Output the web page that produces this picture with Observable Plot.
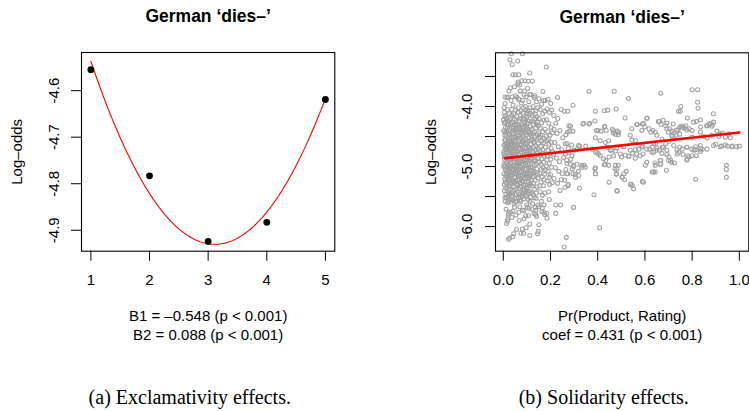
<!DOCTYPE html>
<html>
<head>
<meta charset="utf-8">
<script src="https://cdn.jsdelivr.net/npm/d3@7"></script>
<script src="https://cdn.jsdelivr.net/npm/@observablehq/plot@0.6"></script>
<style>
  html, body { margin: 0; padding: 0; background: #fff; }
  #fig { position: relative; width: 749px; height: 411px; overflow: hidden; }
  #fig svg { position: absolute; top: 0; }
</style>
</head>
<body>
<div id="fig"></div>
<script>
// ---- Panel (a): exclamativity effects ----
const panelTitle = "German ‘dies–’";
const exclLevels = [1, 2, 3, 4, 5];
const exclLogOdds = [-4.555, -4.783, -4.924, -4.883, -4.619];
const quadB0 = -4.077, quadB1 = -0.548, quadB2 = 0.088;
const exclTicksY = [-4.6, -4.7, -4.8, -4.9];
const exclNotes = ["B1 = –0.548 (p < 0.001)", "B2 = 0.088 (p < 0.001)"];
const captionA = "(a) Exclamativity effects.";

// ---- Panel (b): solidarity effects ----
const solTicksX = [0, 0.2, 0.4, 0.6, 0.8, 1.0];
const solTicksY = [-3.5, -4.0, -4.5, -5.0, -5.5, -6.0];
const solLabelsY = [-4.0, -5.0, -6.0];
const solIntercept = -4.864, solCoef = 0.431;
const solFitRange = [0.007, 1.0];
const solNotes = ["Pr(Product, Rating)", "coef = 0.431 (p < 0.001)"];
const captionB = "(b) Solidarity effects.";

// [Pr(Product, Rating), log-odds]
const upperTail = [
  [0.034,-3.12],[0.081,-3.12],[0.028,-3.22],[0.061,-3.24],[0.038,-3.30],[0.182,-3.34],[0.112,-3.44],
  [0.041,-3.47],[0.052,-3.47],[0.066,-3.47],[0.078,-3.57],[0.106,-3.58],[0.123,-3.58],[0.064,-3.59],
  [0.030,-3.69],[0.047,-3.67],[0.069,-3.64],[0.024,-3.74],[0.072,-3.74],[0.090,-3.74],[0.007,-3.84],
  [0.021,-3.84],[0.038,-3.84],[0.052,-3.82],[0.066,-3.88],[0.081,-3.90],[0.112,-3.80],[0.134,-3.82],
  [0.151,-3.87],[0.177,-3.90],[0.185,-4.04],[0.168,-3.75],[0.201,-3.95],[0.230,-3.85],[0.295,-3.98]
];
const denseCore = [
  [0.004,-4.28],[0.010,-4.35],[0.015,-4.42],[0.022,-4.31],[0.027,-4.47],[0.006,-4.55],[0.013,-4.61],
  [0.020,-4.52],[0.025,-4.66],[0.008,-4.72],[0.017,-4.78],[0.024,-4.83],[0.005,-4.88],[0.012,-4.94],
  [0.021,-4.99],[0.028,-4.91],[0.009,-5.05],[0.016,-5.12],[0.023,-5.08],[0.006,-5.21],[0.014,-5.28],
  [0.026,-5.24],[0.010,-5.36],[0.019,-5.42],[0.028,-5.33],[0.007,-5.52],[0.018,-5.60],[0.025,-5.55],
  [0.012,-5.71],[0.022,-5.78],[0.008,-3.95],[0.018,-4.05],[0.011,-4.15],[0.026,-4.12],[0.004,-4.02],
  [0.015,-3.85],[0.027,-4.22],[0.020,-4.72],[0.003,-4.80],[0.029,-5.15],[0.002,-5.00],
  [0.002,-4.40],[0.007,-4.48],[0.018,-4.36],[0.024,-4.58],[0.011,-4.69],[0.029,-4.76],[0.004,-4.96],
  [0.016,-5.01],[0.026,-5.03],[0.010,-5.15],[0.021,-5.19],[0.004,-5.30],[0.016,-5.35],[0.027,-5.46],
  [0.011,-5.46],[0.006,-4.17],[0.020,-4.24],[0.013,-4.86],[0.028,-4.58],[0.003,-4.65],
  [0.001,-4.22],[0.009,-4.26],[0.016,-4.30],[0.023,-4.40],[0.006,-4.43],[0.013,-4.50],[0.028,-4.52],
  [0.019,-4.62],[0.007,-4.63],[0.024,-4.74],[0.015,-4.70],[0.002,-4.76],[0.010,-4.81],[0.026,-4.86],
  [0.018,-4.92],[0.007,-5.00],[0.024,-4.98],[0.013,-5.08],[0.003,-5.12],[0.019,-5.22],[0.027,-5.18],
  [0.009,-5.26],[0.022,-5.32],[0.004,-5.40],[0.014,-5.52],[0.023,-5.45],
  [0.005,-4.10],[0.014,-4.20],[0.021,-4.45],[0.009,-4.57],[0.017,-4.66],[0.027,-4.70],[0.006,-4.84],
  [0.021,-4.88],[0.015,-5.18],[0.025,-5.38],[0.008,-5.58],[0.019,-5.50],
  [0.033,-3.90],[0.041,-3.98],[0.052,-4.06],[0.036,-4.14],[0.047,-4.21],[0.057,-4.17],[0.032,-4.29],
  [0.043,-4.36],[0.054,-4.30],[0.038,-4.44],[0.049,-4.50],[0.058,-4.43],[0.034,-4.58],[0.045,-4.63],
  [0.055,-4.69],[0.040,-4.74],[0.051,-4.81],[0.059,-4.76],[0.035,-4.87],[0.046,-4.93],[0.056,-4.88],
  [0.031,-5.00],[0.042,-5.06],[0.053,-5.02],[0.037,-5.14],[0.048,-5.19],[0.058,-5.13],[0.033,-5.27],
  [0.044,-5.33],[0.055,-5.29],[0.039,-5.41],[0.050,-5.47],[0.034,-5.55],[0.046,-5.62],[0.057,-5.58],
  [0.041,-5.74],[0.053,-5.81],[0.036,-5.85],[0.048,-5.68],[0.058,-3.85],
  [0.031,-4.20],[0.039,-4.27],[0.050,-4.40],[0.060,-4.52],[0.036,-4.52],[0.044,-4.46],[0.053,-4.59],
  [0.032,-4.70],[0.048,-4.72],[0.058,-4.62],[0.038,-4.82],[0.054,-4.95],[0.043,-4.99],[0.031,-5.10],
  [0.052,-5.10],[0.040,-5.25],[0.057,-5.38],[0.046,-5.39],[0.034,-5.45],[0.059,-4.99],
  [0.035,-4.36],[0.047,-4.31],[0.056,-4.38],[0.041,-4.55],[0.052,-4.51],[0.037,-4.65],[0.050,-4.66],
  [0.043,-4.79],[0.057,-4.84],[0.033,-4.94],[0.049,-4.87],[0.039,-5.04],[0.058,-5.06],[0.045,-5.12],
  [0.036,-5.21],[0.053,-5.23],[0.043,-5.28],[0.060,-5.31],[0.048,-5.53],[0.038,-5.49],
  [0.035,-4.05],[0.044,-4.12],[0.054,-4.23],[0.040,-4.40],[0.032,-4.62],[0.047,-4.57],[0.053,-4.75],
  [0.036,-4.77],[0.045,-4.85],[0.058,-4.93],[0.034,-5.06],[0.050,-5.01],[0.047,-5.26],[0.056,-5.47],
  [0.041,-5.55],
  [0.062,-3.62],[0.072,-3.74],[0.088,-3.80],[0.066,-3.88],[0.077,-3.94],[0.085,-4.02],[0.063,-4.09],
  [0.073,-4.15],[0.083,-4.11],[0.068,-4.24],[0.079,-4.30],[0.089,-4.26],[0.064,-4.38],[0.075,-4.45],
  [0.086,-4.40],[0.070,-4.53],[0.080,-4.59],[0.061,-4.65],[0.072,-4.71],[0.083,-4.67],[0.066,-4.80],
  [0.077,-4.86],[0.088,-4.82],[0.063,-4.95],[0.074,-5.01],[0.085,-4.97],[0.069,-5.10],[0.080,-5.16],
  [0.061,-5.22],[0.072,-5.28],[0.083,-5.25],[0.067,-5.37],[0.078,-5.43],[0.089,-5.39],[0.064,-5.52],
  [0.075,-5.58],[0.086,-5.54],[0.070,-5.67],[0.081,-5.73],[0.067,-5.90],[0.088,-5.87],
  [0.061,-4.30],[0.070,-4.37],[0.081,-4.50],[0.088,-4.57],[0.065,-4.57],[0.076,-4.64],[0.087,-4.74],
  [0.062,-4.86],[0.071,-4.92],[0.082,-4.92],[0.066,-5.04],[0.077,-5.08],[0.087,-5.12],[0.064,-5.16],
  [0.075,-5.33],[0.086,-5.31],[0.069,-5.46],[0.080,-5.50],[0.073,-4.20],[0.084,-4.33],
  [0.067,-4.33],[0.078,-4.39],[0.063,-4.48],[0.085,-4.48],[0.070,-4.62],[0.084,-4.60],[0.075,-4.76],
  [0.062,-4.75],[0.089,-4.90],[0.068,-4.88],[0.079,-4.96],[0.072,-5.15],[0.088,-5.20],[0.061,-5.30],
  [0.079,-5.24],[0.069,-5.56],[0.084,-5.46],
  [0.064,-4.02],[0.075,-4.07],[0.086,-4.20],[0.066,-4.43],[0.080,-4.43],[0.068,-4.70],[0.079,-4.72],
  [0.084,-4.84],[0.070,-4.99],[0.082,-5.04],[0.068,-5.22],[0.076,-5.20],[0.085,-5.40],[0.072,-5.50],
  [0.092,-3.57],[0.103,-3.70],[0.097,-3.84],[0.108,-3.92],[0.117,-3.80],[0.094,-4.00],[0.105,-4.06],
  [0.115,-4.12],[0.099,-4.18],[0.110,-4.24],[0.092,-4.31],[0.103,-4.37],[0.114,-4.34],[0.097,-4.47],
  [0.108,-4.52],[0.118,-4.48],[0.094,-4.61],[0.105,-4.67],[0.116,-4.63],[0.100,-4.76],[0.111,-4.82],
  [0.093,-4.89],[0.104,-4.95],[0.115,-4.91],[0.098,-5.05],[0.109,-5.11],[0.119,-5.07],[0.095,-5.20],
  [0.106,-5.26],[0.117,-5.22],[0.101,-5.35],[0.112,-5.41],[0.094,-5.48],[0.105,-5.55],[0.116,-5.51],
  [0.099,-5.64],[0.110,-5.70],[0.106,-5.82],
  [0.091,-4.21],[0.101,-4.28],[0.111,-4.42],[0.096,-4.55],[0.106,-4.58],[0.117,-4.56],[0.091,-4.70],
  [0.102,-4.85],[0.113,-4.74],[0.118,-4.86],[0.096,-4.97],[0.107,-5.03],[0.114,-5.16],[0.092,-5.12],
  [0.103,-5.19],[0.110,-5.32],[0.097,-5.40],[0.119,-5.44],[0.100,-4.11],[0.113,-4.02],
  [0.099,-4.34],[0.093,-4.43],[0.113,-4.46],[0.101,-4.62],[0.111,-4.68],[0.095,-4.79],[0.107,-4.78],
  [0.116,-4.80],[0.100,-4.90],[0.110,-4.97],[0.093,-5.04],[0.115,-5.01],[0.101,-5.12],[0.108,-5.20],
  [0.095,-5.31],[0.105,-5.43],[0.114,-5.29],
  [0.096,-4.07],[0.108,-4.14],[0.118,-4.25],[0.095,-4.38],[0.107,-4.44],[0.098,-4.69],[0.117,-4.70],
  [0.108,-4.90],[0.097,-5.12],[0.117,-5.13],[0.103,-5.29],[0.100,-5.50],[0.113,-5.58],
  [0.131,-3.85],[0.140,-3.92],[0.127,-4.00],[0.137,-4.07],[0.146,-4.02],[0.123,-4.15],[0.133,-4.21],
  [0.143,-4.17],[0.128,-4.30],[0.138,-4.36],[0.148,-4.32],[0.124,-4.45],[0.134,-4.51],[0.144,-4.47],
  [0.129,-4.60],[0.139,-4.66],[0.149,-4.62],[0.125,-4.75],[0.135,-4.81],[0.145,-4.77],[0.130,-4.90],
  [0.140,-4.96],[0.121,-5.02],[0.131,-5.08],[0.142,-5.04],[0.126,-5.17],[0.136,-5.23],[0.147,-5.19],
  [0.122,-5.32],[0.133,-5.38],[0.143,-5.34],[0.128,-5.47],[0.139,-5.53],[0.124,-5.62],[0.135,-5.68],
  [0.146,-5.64],[0.130,-5.78],[0.141,-5.83],
  [0.126,-4.08],[0.136,-4.13],[0.145,-4.26],[0.121,-4.38],[0.131,-4.42],[0.142,-4.54],[0.127,-4.68],
  [0.137,-4.73],[0.147,-4.86],[0.122,-4.88],[0.132,-4.98],[0.144,-5.12],[0.128,-5.28],[0.140,-5.44],
  [0.125,-4.55],
  [0.126,-4.24],[0.140,-4.29],[0.131,-4.58],[0.146,-4.70],[0.136,-4.89],[0.126,-5.10],[0.139,-5.15],
  [0.131,-5.52],
  [0.162,-3.96],[0.171,-3.90],[0.157,-4.05],[0.167,-4.12],[0.176,-4.08],[0.152,-4.20],[0.162,-4.27],
  [0.172,-4.23],[0.157,-4.36],[0.167,-4.42],[0.177,-4.38],[0.153,-4.51],[0.163,-4.57],[0.173,-4.53],
  [0.158,-4.66],[0.168,-4.72],[0.178,-4.68],[0.154,-4.81],[0.164,-4.87],[0.174,-4.83],[0.159,-4.96],
  [0.169,-5.02],[0.155,-5.11],[0.165,-5.17],[0.175,-5.13],[0.160,-5.26],[0.170,-5.32],[0.156,-5.42],
  [0.166,-5.48],[0.176,-5.44],[0.161,-5.58],[0.172,-5.64],[0.163,-5.75],[0.175,-5.80],
  [0.151,-4.44],[0.159,-4.48],[0.171,-4.60],[0.156,-4.74],[0.166,-4.78],[0.152,-4.93],[0.171,-4.93],
  [0.160,-5.05],[0.178,-5.05],[0.154,-5.32],[0.173,-5.22],
  [0.190,-3.88],[0.196,-4.10],[0.205,-4.06],[0.183,-4.22],[0.193,-4.28],[0.203,-4.35],[0.188,-4.42],
  [0.198,-4.48],[0.208,-4.44],[0.184,-4.57],[0.194,-4.63],[0.204,-4.60],[0.189,-4.73],[0.199,-4.79],
  [0.209,-4.75],[0.185,-4.89],[0.195,-4.95],[0.205,-5.01],[0.190,-5.08],[0.200,-5.14],[0.186,-5.24],
  [0.197,-5.30],[0.207,-5.27],[0.192,-5.42],[0.195,-5.55],
  [0.181,-4.50],[0.191,-4.55],[0.187,-4.82],[0.201,-4.88],[0.182,-5.00],[0.196,-5.18],[0.203,-4.70],
  [0.214,-4.15],[0.222,-4.28],[0.231,-4.20],[0.245,-4.05],[0.258,-4.08],[0.273,-4.08],[0.215,-4.38],
  [0.228,-4.45],[0.240,-4.40],[0.252,-4.52],[0.265,-4.47],[0.281,-4.41],[0.278,-4.32],[0.218,-4.60],
  [0.233,-4.67],[0.248,-4.72],[0.262,-4.62],[0.275,-4.70],[0.290,-4.64],[0.212,-4.80],[0.225,-4.86],
  [0.238,-4.92],[0.255,-4.85],[0.270,-4.95],[0.285,-4.88],[0.220,-5.02],[0.235,-5.08],[0.250,-5.12],
  [0.265,-5.05],[0.298,-5.00],[0.215,-5.20],[0.230,-5.28],[0.245,-5.22],[0.261,-5.35],[0.240,-5.40]
];
const lowerTail = [
  [0.031,-5.76],[0.066,-5.76],[0.088,-5.73],[0.102,-5.68],[0.123,-5.71],[0.137,-5.73],[0.151,-5.67],
  [0.165,-5.69],[0.172,-5.76],[0.052,-5.59],[0.024,-5.59],[0.095,-5.82],[0.137,-5.80],[0.018,-5.91],
  [0.021,-5.81],[0.014,-5.95],[0.019,-5.88],[0.044,-6.12],[0.056,-6.05],[0.075,-6.11],[0.086,-6.11],
  [0.081,-6.04],[0.097,-6.02],[0.112,-5.96],[0.112,-6.15],[0.151,-5.97],[0.145,-6.12],[0.148,-6.08],
  [0.027,-6.19],[0.022,-6.21],[0.040,-6.17],[0.184,-5.78],[0.185,-5.86],[0.222,-5.64],[0.243,-5.64],
  [0.222,-5.78],[0.298,-5.68],[0.267,-6.18],[0.258,-6.34],[0.408,-6.02]
];
const spread = [
  [0.363,-3.75],[0.470,-3.744],[0.530,-3.867],[0.667,-3.778],[0.800,-3.72],[0.823,-3.72],[0.823,-3.93],
  [0.825,-4.03],[0.750,-4.08],[0.752,-4.00],[0.742,-4.08],[0.390,-4.08],[0.428,-4.07],[0.442,-4.06],
  [0.478,-4.04],[0.890,-4.12],[0.780,-4.19],[0.609,-4.19],[0.516,-4.19],[0.388,-4.24],[0.363,-4.29],
  [0.338,-4.29],[0.429,-4.34],[0.462,-4.38],[0.466,-4.44],[0.483,-4.41],[0.487,-4.47],[0.395,-4.40],
  [0.568,-4.30],[0.544,-4.37],[0.589,-4.29],[0.617,-4.37],[0.657,-4.25],[0.677,-4.23],[0.688,-4.32],
  [0.705,-4.37],[0.720,-4.29],[0.740,-4.39],[0.753,-4.33],[0.763,-4.34],[0.773,-4.32],[0.787,-4.37],
  [0.800,-4.40],[0.836,-4.34],[0.862,-4.32],[0.871,-4.30],[0.883,-4.33],[0.891,-4.26],[0.928,-4.44],
  [0.914,-4.50],[0.925,-4.66],[0.949,-4.66],[0.970,-4.66],[1.000,-4.66],[0.900,-4.63],[0.815,-4.67],
  [0.808,-4.73],[0.843,-4.71],[0.945,-4.98],[0.945,-5.05],[0.945,-5.18],[0.815,-5.21],
  [0.800,-4.51],[0.777,-4.68],[0.747,-4.68],[0.758,-4.71],[0.716,-4.50],[0.723,-4.44],[0.702,-4.58],
  [0.688,-4.62],[0.674,-4.68],[0.662,-4.73],[0.645,-4.62],[0.631,-4.68],[0.620,-4.71],[0.589,-4.66],
  [0.575,-4.71],[0.565,-4.79],[0.547,-4.78],[0.532,-4.83],[0.516,-4.81],[0.501,-4.84],[0.476,-4.74],
  [0.459,-4.73],[0.448,-4.84],[0.434,-4.90],[0.428,-4.97],[0.403,-4.79],[0.391,-4.76],[0.377,-4.71],
  [0.349,-4.66],[0.323,-4.66],[0.314,-4.71],[0.299,-4.73],[0.777,-4.88],[0.787,-4.84],[0.737,-4.79],
  [0.709,-4.90],[0.702,-4.84],[0.667,-4.90],[0.667,-4.96],[0.643,-4.94],[0.631,-5.09],[0.589,-5.25],
  [0.541,-5.29],[0.547,-5.32],[0.504,-5.18],[0.511,-5.12],[0.479,-5.12],[0.473,-5.04],[0.487,-4.98],
  [0.448,-5.26],[0.483,-5.41],[0.391,-5.12],[0.388,-5.04],[0.332,-5.01],[0.342,-4.98],[0.384,-5.47],
  [0.318,-5.08],[0.292,-5.04],[0.275,-5.30],[0.306,-5.18],[0.260,-5.23],[0.273,-5.12],
  [0.565,-4.30],[0.594,-4.28],[0.608,-4.20],[0.340,-4.28],[0.366,-4.28],[0.284,-4.33],[0.295,-4.41],
  [0.272,-4.43],[0.401,-4.40],[0.414,-4.41],[0.430,-4.33],[0.436,-4.40],[0.467,-4.40],[0.475,-4.46],
  [0.489,-4.43],[0.390,-4.52],[0.410,-4.57],[0.432,-4.60],[0.446,-4.57],[0.538,-4.48],[0.545,-4.56],
  [0.560,-4.57],[0.587,-4.40],[0.600,-4.34],[0.625,-4.43],[0.634,-4.40],[0.319,-4.65],[0.270,-4.62],
  [0.439,-4.68],[0.453,-4.73],[0.481,-4.69],[0.510,-4.67],[0.538,-4.73],[0.559,-4.72],[0.587,-4.68],
  [0.608,-4.71],
  [0.661,-4.25],[0.668,-4.30],[0.693,-4.28],[0.806,-4.26],[0.818,-4.25],[0.835,-4.22],[0.863,-4.32],
  [0.877,-4.28],[0.886,-4.30],[0.905,-4.41],[0.693,-4.37],[0.700,-4.43],[0.714,-4.41],[0.733,-4.39],
  [0.747,-4.35],[0.758,-4.33],[0.767,-4.36],[0.778,-4.39],[0.714,-4.48],[0.733,-4.48],[0.747,-4.46],
  [0.644,-4.43],[0.651,-4.48],[0.672,-4.54],[0.835,-4.43],[0.849,-4.50],[0.863,-4.52],[0.884,-4.48],
  [0.919,-4.46],[0.941,-4.51],[0.962,-4.52],[0.955,-4.46],[0.637,-4.62],[0.651,-4.69],[0.679,-4.68],
  [0.693,-4.73],[0.722,-4.65],[0.736,-4.72],[0.778,-4.68],[0.799,-4.71],[0.814,-4.72],[0.835,-4.65],
  [0.835,-4.71],[0.863,-4.71],[0.891,-4.65],[0.919,-4.67],[0.941,-4.64],[0.969,-4.67],[0.988,-4.67],
  [0.637,-4.76],[0.651,-4.73],[0.672,-4.78],[0.693,-4.80],[0.700,-4.90],[0.714,-4.93],[0.725,-4.94],
  [0.691,-5.06],[0.644,-4.98],[0.644,-5.09],[0.665,-4.90],[0.665,-4.96],[0.743,-4.76],[0.761,-4.80],
  [0.778,-4.89],[0.782,-4.82],[0.799,-4.82],[0.818,-4.82],[0.835,-4.75],
  [0.263,-4.79],[0.277,-4.76],[0.291,-4.82],[0.269,-4.90],[0.284,-4.96],[0.298,-4.98],[0.312,-4.96],
  [0.319,-5.15],[0.269,-5.12],[0.295,-5.12],[0.305,-5.13],[0.333,-4.98],[0.347,-5.01],[0.390,-5.02],
  [0.390,-5.12],[0.323,-5.36],[0.274,-5.32],[0.397,-4.76],[0.411,-4.82],[0.425,-4.87],[0.432,-4.97],
  [0.446,-4.98],[0.475,-4.98],[0.481,-5.04],[0.479,-5.13],[0.503,-5.17],[0.514,-5.22],[0.538,-5.30],
  [0.552,-5.37],[0.481,-5.40],[0.521,-5.08],[0.594,-5.26],[0.602,-4.98],[0.592,-4.79],[0.559,-4.86],
  [0.580,-4.82],[0.531,-4.83],[0.496,-4.79],[0.467,-4.82],[0.608,-4.93],[0.637,-5.09],[0.630,-4.76]
];
const solidarity = [...upperTail, ...denseCore, ...lowerTail, ...spread];

// ---- shared styling ----
const sans = "'Liberation Sans', Arial, Helvetica, sans-serif";
const serif = "'Liberation Serif', 'Times New Roman', serif";
const fmt1 = d3.format(".1f");
const label = v => fmt1(v).replace("−", "-");

function sharedMarks(titleText, yTitle, notes, caption, dxCaption) {
  return [
    Plot.text([titleText], {text: d => d, frameAnchor: "top", dy: -35.7, lineAnchor: "middle",
      fontWeight: "bold", fontSize: 17.5}),
    Plot.text([yTitle], {text: d => d, frameAnchor: "left", dx: -64, rotate: -90,
      lineAnchor: "middle", textAnchor: "middle", fontSize: 15}),
    Plot.text([notes[0]], {text: d => d, frameAnchor: "bottom", dy: 65.3, lineAnchor: "middle", fontSize: 15}),
    Plot.text([notes[1]], {text: d => d, frameAnchor: "bottom", dy: 84, lineAnchor: "middle", fontSize: 15}),
    Plot.text([caption], {text: d => d, frameAnchor: "bottom", dx: dxCaption, dy: 146,
      lineAnchor: "middle", fontSize: 20, fontFamily: serif})
  ];
}

// Panel (a): observed log-odds per level with the quadratic fit
const curveX = d3.range(1, 5.0001, 0.02);
const plotA = Plot.plot({
  width: 375, height: 411,
  marginLeft: 81, marginRight: 40.7, marginTop: 52, marginBottom: 160.3,
  style: {fontFamily: sans, fontSize: "15px", background: "transparent", color: "#000"},
  x: {domain: [0.84, 5.16]},
  y: {domain: [-4.945, -4.518]},
  marks: [
    Plot.line(curveX, {x: d => d, y: d => quadB0 + quadB1 * d + quadB2 * d * d, stroke: "#ff0000", strokeWidth: 1.1}),
    Plot.dot(exclLevels, {x: d => d, y: (d, i) => exclLogOdds[i], r: 3.4, fill: "#000", stroke: "none"}),
    Plot.frame({stroke: "#000", strokeWidth: 1.1}),
    Plot.axisX({ticks: exclLevels, tickSize: 10, tickFormat: () => "", label: null}),
    Plot.axisY({ticks: exclTicksY, tickSize: 10, tickFormat: () => "", label: null}),
    Plot.text(exclLevels, {x: d => d, text: d => String(d), frameAnchor: "bottom", dy: 29.3,
      lineAnchor: "middle", fontSize: 15}),
    Plot.text(exclTicksY, {y: d => d, text: d => label(d), frameAnchor: "left", dx: -27.7, rotate: -90,
      lineAnchor: "middle", textAnchor: "middle", fontSize: 15}),
    ...sharedMarks(panelTitle, "Log–odds", exclNotes, captionA, -18.4)
  ]
});

// Panel (b): per-item log-odds against Pr(Product, Rating) with linear fit
const plotB = Plot.plot({
  width: 374, height: 411,
  marginLeft: 120, marginRight: 0.7, marginTop: 52.3, marginBottom: 160.3,
  style: {fontFamily: sans, fontSize: "15px", background: "transparent", color: "#000"},
  x: {domain: [-0.033, 1.04]},
  y: {domain: [-6.41, -3.105]},
  marks: [
    Plot.dot(solidarity, {x: d => d[0], y: d => d[1], r: 2, stroke: "#a0a0a0", strokeWidth: 1.05, fill: "none"}),
    Plot.line(solFitRange, {x: d => d, y: d => solIntercept + solCoef * d, stroke: "#ff0000", strokeWidth: 2.6}),
    Plot.frame({stroke: "#000", strokeWidth: 1.1}),
    Plot.axisX({ticks: solTicksX, tickSize: 10, tickFormat: () => "", label: null}),
    Plot.axisY({ticks: solTicksY, tickSize: 10, tickFormat: () => "", label: null}),
    Plot.text(solTicksX, {x: d => d, text: d => fmt1(d), frameAnchor: "bottom", dy: 29.3,
      lineAnchor: "middle", fontSize: 15}),
    Plot.text(solLabelsY, {y: d => d, text: d => label(d), frameAnchor: "left", dx: -28.3, rotate: -90,
      lineAnchor: "middle", textAnchor: "middle", fontSize: 15}),
    ...sharedMarks(panelTitle, "Log–odds", solNotes, captionB, -18.4)
  ]
});

const fig = document.getElementById("fig");
plotA.style.left = "0px";
plotB.style.left = "375px";
fig.appendChild(plotA);
fig.appendChild(plotB);
</script>
</body>
</html>
